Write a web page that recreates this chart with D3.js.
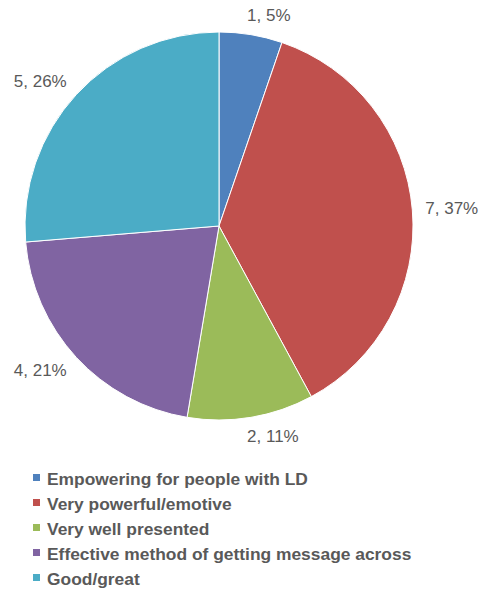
<!DOCTYPE html>
<html>
<head>
<meta charset="utf-8">
<script src="https://cdn.jsdelivr.net/npm/d3@7"></script>
<style>
  html, body { margin: 0; padding: 0; background: #fff; }
  svg { display: block; font-family: "Liberation Sans", Arial, sans-serif; }
</style>
</head>
<body>
<script>
const categories = [
  "Empowering for people with LD",
  "Very powerful/emotive",
  "Very well presented",
  "Effective method of getting message across",
  "Good/great"
];
const counts = [1, 7, 2, 4, 5];
const percentLabels = ["5%", "37%", "11%", "21%", "26%"];
const colors = ["#4F81BD", "#C0504D", "#9BBB59", "#8064A2", "#4BACC6"];

const W = 484, H = 598;
const cx = 219, cy = 226, r = 194;

const svg = d3.select("body").append("svg").attr("width", W).attr("height", H);

const data = categories.map((c, i) => ({ cat: c, value: counts[i], pct: percentLabels[i], color: colors[i] }));

const pie = d3.pie().value(d => d.value).sort(null);
const arc = d3.arc().innerRadius(0).outerRadius(r);
const arcs = pie(data);

const g = svg.append("g").attr("transform", `translate(${cx},${cy})`);

g.selectAll("path").data(arcs).join("path")
  .attr("d", arc)
  .attr("fill", d => d.data.color)
  .attr("stroke", "#fff")
  .attr("stroke-width", 1);

const lr = r + 13;
g.selectAll("text.lbl").data(arcs).join("text")
  .attr("class", "lbl")
  .each(function(d) {
    const a = (d.startAngle + d.endAngle) / 2;
    const x = lr * Math.sin(a);
    const y = -lr * Math.cos(a);
    d3.select(this)
      .attr("x", Math.abs(Math.sin(a)) < 0.3 ? x - 6 : x)
      .attr("y", y - 6 * Math.cos(a))
      .attr("text-anchor", x >= 0 ? "start" : "end");
  })
  .attr("dominant-baseline", "central")
  .attr("font-size", 17)
  .attr("fill", "#595959")
  .text(d => `${d.data.value}, ${d.data.pct}`);

const legend = svg.append("g").attr("transform", "translate(33,478)");
const item = legend.selectAll("g").data(data).join("g")
  .attr("transform", (d, i) => `translate(0,${i * 25})`);
item.append("rect")
  .attr("x", 0).attr("y", -4).attr("width", 7).attr("height", 7)
  .attr("fill", d => d.color);
item.append("text")
  .attr("x", 14).attr("y", 0.5)
  .attr("dominant-baseline", "central")
  .attr("font-size", 17.4)
  .attr("font-weight", "bold")
  .attr("fill", "#595959")
  .text(d => d.cat);
</script>
</body>
</html>
